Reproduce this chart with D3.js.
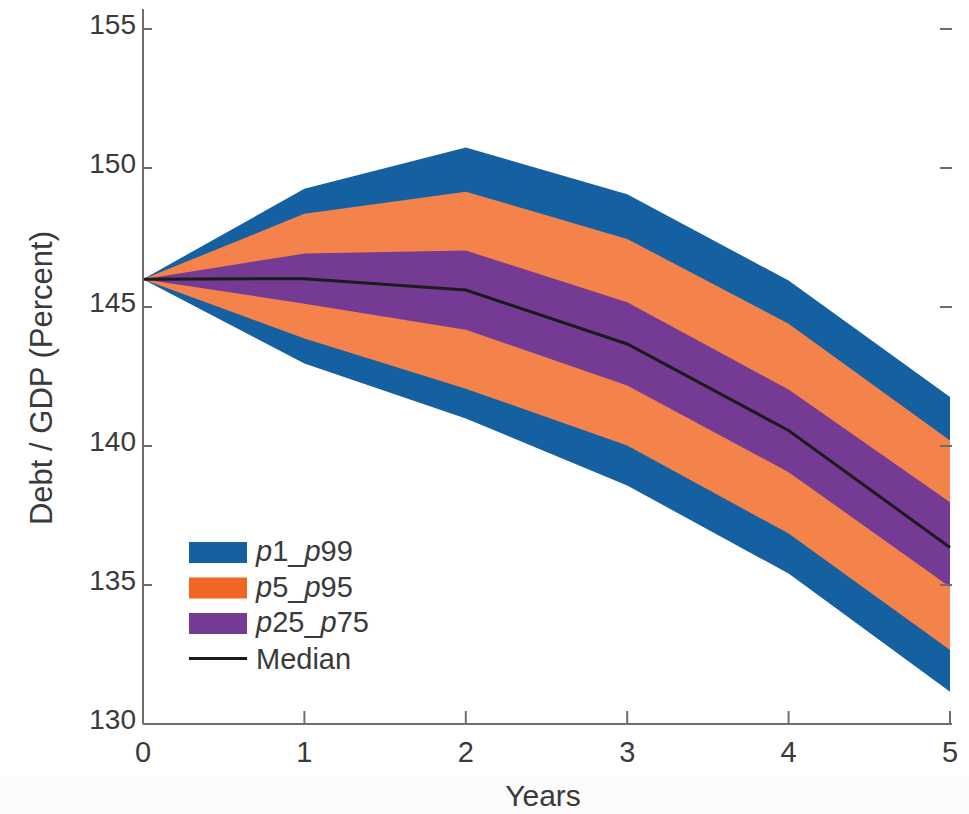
<!DOCTYPE html>
<html lang="en">
  <head>
    <meta charset="UTF-8" />
    <title>Debt / GDP fan chart</title>
    <script src="https://d3js.org/d3.v7.min.js"></script>
    <style>
      body {
        margin: 0;
        background: #ffffff;
      }
      text {
        font-family: "Liberation Sans", Arial, sans-serif;
        fill: #3a3a3a;
      }
    </style>
  </head>
  <body>
    <svg id="chart" width="969" height="814"></svg>
  </body>
  <script>
    const years = [0, 1, 2, 3, 4, 5];
    const p99 = [146, 149.25, 150.74, 149.06, 145.95, 141.76];
    const p95 = [146, 148.35, 149.15, 147.45, 144.4, 140.2];
    const p75 = [146, 146.92, 147.03, 145.17, 142.03, 137.98];
    const median = [146, 146.02, 145.61, 143.67, 140.56, 136.35];
    const p25 = [146, 145.12, 144.18, 142.18, 139.06, 134.93];
    const p5 = [146, 143.87, 142.06, 140.02, 136.85, 132.66];
    const p1 = [146, 142.97, 140.99, 138.58, 135.41, 131.16];
    const yTicks = [130, 135, 140, 145, 150, 155];
    const legendLabels = ["p1_p99", "p5_p95", "p25_p75", "Median"];

    const svg = d3.select("#chart");

    // very faint grey strip under the chart, as in the source picture
    svg
      .append("rect")
      .attr("x", 0)
      .attr("y", 777)
      .attr("width", 969)
      .attr("height", 37)
      .attr("fill", "#fbfbfb");

    const x = d3.scaleLinear().domain([0, 5]).range([143, 950]);
    const y = d3.scaleLinear().domain([130, 155]).range([724, 29]);

    const bands = [
      { lo: p1, hi: p99, color: "#1560a0" },
      { lo: p5, hi: p95, color: "#f3834a" },
      { lo: p25, hi: p75, color: "#753b94" },
    ];

    const area = d3
      .area()
      .x((d) => x(d.year))
      .y0((d) => y(d.lo))
      .y1((d) => y(d.hi));

    svg
      .append("g")
      .selectAll("path")
      .data(bands)
      .enter()
      .append("path")
      .attr("d", (b) =>
        area(years.map((yr, i) => ({ year: yr, lo: b.lo[i], hi: b.hi[i] })))
      )
      .attr("fill", (b) => b.color);

    const line = d3
      .line()
      .x((d, i) => x(years[i]))
      .y((d) => y(d));

    svg
      .append("path")
      .attr("d", line(median))
      .attr("fill", "none")
      .attr("stroke", "#1b1b1b")
      .attr("stroke-width", 3);

    // axes
    const axisColor = "#6e6e6e";

    const left = svg.append("g").attr("transform", `translate(${x(0)},0)`);
    left
      .append("line")
      .attr("y1", 9)
      .attr("y2", y(130))
      .attr("stroke", axisColor)
      .attr("stroke-width", 2);
    left
      .selectAll(".tick")
      .data(yTicks)
      .enter()
      .append("line")
      .attr("x1", 0)
      .attr("x2", 9)
      .attr("y1", (d) => y(d))
      .attr("y2", (d) => y(d))
      .attr("stroke", axisColor)
      .attr("stroke-width", 2);
    left
      .selectAll("text")
      .data(yTicks)
      .enter()
      .append("text")
      .attr("x", -7)
      .attr("y", (d) => y(d) + 5)
      .attr("text-anchor", "end")
      .style("font-size", "28px")
      .text((d) => d);

    // right side: inner ticks only, no line
    svg
      .append("g")
      .selectAll("line")
      .data(yTicks)
      .enter()
      .append("line")
      .attr("x1", 940)
      .attr("x2", 952)
      .attr("y1", (d) => y(d))
      .attr("y2", (d) => y(d))
      .attr("stroke", axisColor)
      .attr("stroke-width", 2);

    const bottom = svg.append("g").attr("transform", `translate(0,${y(130)})`);
    bottom
      .append("line")
      .attr("x1", x(0))
      .attr("x2", x(5))
      .attr("stroke", axisColor)
      .attr("stroke-width", 2);
    bottom
      .selectAll(".tick")
      .data(years)
      .enter()
      .append("line")
      .attr("x1", (d) => x(d))
      .attr("x2", (d) => x(d))
      .attr("y1", 0)
      .attr("y2", -13)
      .attr("stroke", axisColor)
      .attr("stroke-width", 2);
    bottom
      .selectAll("text")
      .data(years)
      .enter()
      .append("text")
      .attr("x", (d) => x(d))
      .attr("y", 38)
      .attr("text-anchor", "middle")
      .style("font-size", "29px")
      .text((d) => d);

    // axis titles
    svg
      .append("text")
      .attr("transform", "translate(52,378) rotate(-90)")
      .attr("text-anchor", "middle")
      .style("font-size", "31px")
      .text("Debt / GDP (Percent)");

    svg
      .append("text")
      .attr("x", 543)
      .attr("y", 806)
      .attr("text-anchor", "middle")
      .style("font-size", "30px")
      .text("Years");

    // legend
    const legendColors = ["#1560a0", "#f26522", "#753b94", "#1b1b1b"];
    const legend = svg.append("g").attr("transform", "translate(189,542)");
    const rows = legend
      .selectAll("g")
      .data(legendLabels)
      .enter()
      .append("g")
      .attr("transform", (d, i) => `translate(0,${i * 35.5})`);

    rows.each(function (d, i) {
      const g = d3.select(this);
      if (i < 3) {
        g.append("rect")
          .attr("width", 58)
          .attr("height", 21)
          .attr("fill", legendColors[i]);
      } else {
        g.append("line")
          .attr("x1", 0)
          .attr("x2", 58)
          .attr("y1", 10)
          .attr("y2", 10)
          .attr("stroke", legendColors[i])
          .attr("stroke-width", 3);
      }
      const t = g
        .append("text")
        .attr("x", 67)
        .attr("y", i < 3 ? 19 : 20)
        .style("font-size", "29px");
      if (i < 3) {
        const parts = d.split("_");
        t.append("tspan").style("font-style", "italic").text("p");
        t.append("tspan").text(parts[0].slice(1) + "_");
        t.append("tspan").style("font-style", "italic").text("p");
        t.append("tspan").text(parts[1].slice(1));
      } else {
        t.text(d);
      }
    });
  </script>
</html>
